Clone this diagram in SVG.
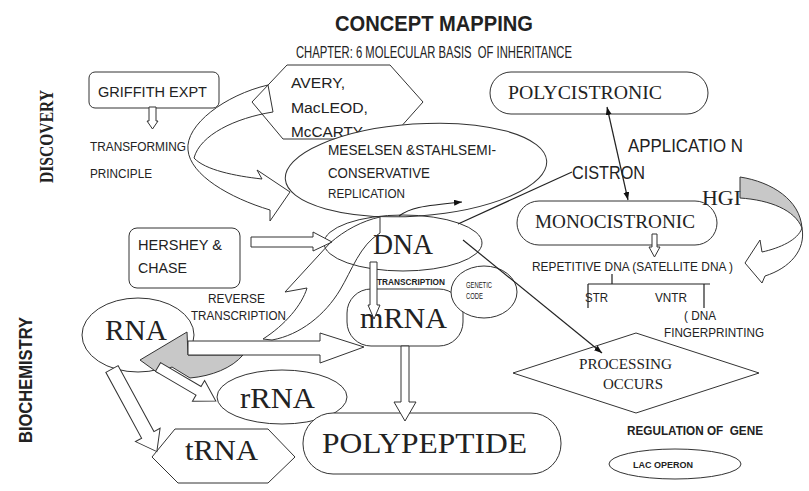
<svg xmlns="http://www.w3.org/2000/svg" width="809" height="491" viewBox="0 0 809 491">
<defs>
<style>
.n{fill:#fff;stroke:#333;stroke-width:1}
.o{fill:none;stroke:#333;stroke-width:1}
.ha{fill:#fff;stroke:#333;stroke-width:1}
.ln{fill:none;stroke:#222;stroke-width:1.2}
.s{font-family:"Liberation Sans",Arial,sans-serif;fill:#222}
.r{font-family:"Liberation Serif","Times New Roman",serif;fill:#222}
.b{font-weight:bold}
.pre{white-space:pre}
</style>
<marker id="ah" viewBox="0 0 8 6" refX="8" refY="3" markerWidth="8" markerHeight="6" markerUnits="userSpaceOnUse" orient="auto-start-reverse">
<path d="M0,0 L8,3 L0,6 z" fill="#111"/>
</marker>
</defs>
<rect width="809" height="491" fill="#fff"/>

<g id="title">
<text class="s b" x="335" y="31" font-size="22" textLength="198" lengthAdjust="spacingAndGlyphs">CONCEPT MAPPING</text>
<text class="s pre" x="296" y="58" font-size="16" textLength="276" lengthAdjust="spacingAndGlyphs">CHAPTER: 6 MOLECULAR BASIS  OF INHERITANCE</text>
</g>
<g id="side-labels">
<text class="r b" transform="translate(53,136.5) rotate(-90)" text-anchor="middle" font-size="18" textLength="93" lengthAdjust="spacingAndGlyphs">DISCOVERY</text>
<text class="s b" transform="translate(32,380) rotate(-90)" text-anchor="middle" font-size="18" textLength="126" lengthAdjust="spacingAndGlyphs">BIOCHEMISTRY</text>
</g>

<g id="griffith">
<rect class="n" x="89" y="72" width="130" height="36" rx="6"/>
<text class="s" x="98" y="97" font-size="15" textLength="109" lengthAdjust="spacingAndGlyphs">GRIFFITH EXPT</text>
</g>
<g id="transforming-principle">
<text class="s" x="90" y="151" font-size="12" textLength="96" lengthAdjust="spacingAndGlyphs">TRANSFORMING</text>
<text class="s" x="90" y="178" font-size="12" textLength="62" lengthAdjust="spacingAndGlyphs">PRINCIPLE</text>
</g>
<g id="avery">
<polygon class="n" points="252,102 287,65 390,65 423,102 390,139 283,139"/>
<text class="s" x="291" y="88" font-size="15.5" textLength="54" lengthAdjust="spacingAndGlyphs">AVERY,</text>
<text class="s" x="291" y="113" font-size="15.5" textLength="77" lengthAdjust="spacingAndGlyphs">MacLEOD,</text>
<text class="s" x="291" y="137" font-size="15.5" textLength="72" lengthAdjust="spacingAndGlyphs">McCARTY</text>
</g>
<g id="meselsen">
<ellipse class="n" cx="416" cy="170" rx="131" ry="46" transform="rotate(-4 416 170)"/>
<text class="s" x="328" y="155" font-size="14.5" textLength="168" lengthAdjust="spacingAndGlyphs">MESELSEN &amp;STAHLSEMI-</text>
<text class="s" x="328" y="178" font-size="14.5" textLength="102" lengthAdjust="spacingAndGlyphs">CONSERVATIVE</text>
<text class="s" x="328" y="198" font-size="12.5" textLength="77" lengthAdjust="spacingAndGlyphs">REPLICATION</text>
</g>
<g id="polycistronic">
<rect class="n" x="490" y="72" width="218" height="42" rx="21"/>
<text class="r" x="508" y="99" font-size="19.5" textLength="154" lengthAdjust="spacingAndGlyphs" fill="#333">POLYCISTRONIC</text>
</g>
<g id="monocistronic">
<rect class="n" x="517" y="201" width="200" height="44" rx="22"/>
<text class="r" x="535" y="228" font-size="19" textLength="160" lengthAdjust="spacingAndGlyphs" fill="#444">MONOCISTRONIC</text>
</g>
<g id="hershey">
<rect class="n" x="129" y="228" width="111" height="60" rx="8"/>
<text class="s" x="138" y="250" font-size="15" textLength="84" lengthAdjust="spacingAndGlyphs">HERSHEY &amp;</text>
<text class="s" x="138" y="273" font-size="15" textLength="49" lengthAdjust="spacingAndGlyphs">CHASE</text>
</g>
<g id="dna">
<ellipse class="o" cx="403" cy="243" rx="79" ry="28"/>
<text class="r" x="373" y="254" font-size="29" textLength="60" lengthAdjust="spacingAndGlyphs">DNA</text>
</g>
<g id="mrna">
<rect class="n" x="347" y="289" width="116" height="57" rx="24"/>
<text class="r" x="360" y="328" font-size="30" textLength="87" lengthAdjust="spacingAndGlyphs">mRNA</text>
</g>
<g id="genetic-code">
<ellipse class="n" cx="484" cy="292" rx="33" ry="26"/>
<text class="s" x="466" y="288" font-size="9" textLength="26" lengthAdjust="spacingAndGlyphs">GENETIC</text>
<text class="s" x="466" y="299" font-size="9" textLength="17" lengthAdjust="spacingAndGlyphs">CODE</text>
</g>
<g id="rna">
<ellipse class="n" cx="138" cy="335" rx="56" ry="37"/>
<text class="r" x="105" y="340" font-size="29" textLength="62" lengthAdjust="spacingAndGlyphs">RNA</text>
</g>
<g id="rrna">
<ellipse class="n" cx="282" cy="397" rx="65" ry="27"/>
<text class="r" x="240" y="408" font-size="29" textLength="75" lengthAdjust="spacingAndGlyphs">rRNA</text>
</g>
<g id="trna">
<polygon class="n" points="152,457 175,429 268,429 295,457 268,483 178,483"/>
<text class="r" x="185" y="460" font-size="29" textLength="73" lengthAdjust="spacingAndGlyphs">tRNA</text>
</g>
<g id="polypeptide">
<rect class="n" x="303" y="413" width="258" height="61" rx="30"/>
<text class="r" x="322" y="453" font-size="30" textLength="205" lengthAdjust="spacingAndGlyphs">POLYPEPTIDE</text>
</g>
<g id="repetitive-dna">
<text class="s" x="532" y="271" font-size="13" textLength="201" lengthAdjust="spacingAndGlyphs">REPETITIVE DNA (SATELLITE DNA )</text>
</g>
<g id="str">
<text class="s" x="585" y="302" font-size="13" textLength="23" lengthAdjust="spacingAndGlyphs">STR</text>
</g>
<g id="vntr">
<text class="s" x="655" y="302" font-size="13" textLength="32" lengthAdjust="spacingAndGlyphs">VNTR</text>
<text class="s" x="684" y="320" font-size="13" textLength="32" lengthAdjust="spacingAndGlyphs">( DNA</text>
<text class="s" x="664" y="337" font-size="13" textLength="100" lengthAdjust="spacingAndGlyphs">FINGERPRINTING</text>
</g>
<g id="processing">
<polygon class="n" points="513,373 636,333 759,373 636,413"/>
<text class="r" x="579" y="369" font-size="15" textLength="93" lengthAdjust="spacingAndGlyphs" fill="#555">PROCESSING</text>
<text class="r" x="603" y="389" font-size="15" textLength="60" lengthAdjust="spacingAndGlyphs" fill="#555">OCCURS</text>
</g>
<g id="regulation">
<text class="s b pre" x="627" y="435" font-size="13" textLength="136" lengthAdjust="spacingAndGlyphs">REGULATION OF  GENE</text>
</g>
<g id="lac-operon">
<ellipse class="n" cx="675" cy="464" rx="66" ry="15"/>
<text class="s b" x="633" y="468" font-size="9" textLength="60" lengthAdjust="spacingAndGlyphs">LAC OPERON</text>
</g>

<g id="connectors">
<polygon class="ha" points="149,107 156,107 156,121 158,121 152.5,129 147,121 149,121"/>
<path class="o" d="M268,85 C225,95 185,125 188,150 C190,175 230,198 270,210 L270,221 L290,192 L257,170 L262,179 C235,176 205,170 194,158 C200,135 235,118 273,112 Z"/>
<path class="ln" d="M399,216 C410,208 420,206 462,202" marker-end="url(#ah)"/>
<polygon class="ha" points="251,237 313,237 313,232 332,242 313,251 313,247 251,247"/>
<path class="o" d="M263,339 C285,325 302,305 307,288 L285,292 L330,243 C345,230 362,221 380,217 L380,233 C360,245 352,270 340,290 C325,315 300,335 272,340 Z"/>
<polygon class="ha" points="370,262 377,262 377,305 380,305 374,319 368,305 370,305"/>
<polygon class="ha" points="401,346 409,346 409,402 416,402 405,421 394,402 401,402"/>
<line class="ln" x1="458" y1="224" x2="572" y2="172"/>
<line class="ln" x1="463" y1="240" x2="602" y2="353" marker-end="url(#ah)"/>
<line class="ln" x1="607" y1="107" x2="628" y2="200" marker-start="url(#ah)" marker-end="url(#ah)"/>
<polygon class="ha" points="652,234 657,234 657,247 660,247 654.5,257 649,247 652,247"/>
<path class="ln" d="M612,274 V284 M588,284 H710 M588,284 V308 M704,284 V308"/>
<path d="M740,177 C772,182 800,200 802,228 C795,210 770,200 740,198 Z" fill="#c8c8c8" stroke="#333" stroke-width="1"/>
<path class="ha" d="M802,228 C806,250 790,268 765,276 L762,283 L745,263 L760,240 L762,252 C780,248 798,240 802,228 Z"/>
<path d="M140,360 L187,332 L188,355 L243,355 C232,368 212,376 190,378 L172,367 L158,373 Z" fill="#c8c8c8" stroke="#333" stroke-width="1"/>
<polygon class="ha" points="188,341 320,341 320,333 364,347 320,363 320,355 188,355"/>
<polygon class="ha" transform="translate(158,367) rotate(30.4)" points="0,-5 47,-5 47,-12 67,0 47,12 47,5 0,5"/>
<polygon class="ha" transform="translate(112,369) rotate(61.5)" points="0,-7 75,-7 75,-14 94,0 75,14 75,7 0,7"/>
</g>

<g id="labels">
<text class="s" x="208" y="303" font-size="12.5" textLength="57" lengthAdjust="spacingAndGlyphs">REVERSE</text>
<text class="s" x="191" y="320" font-size="12.5" textLength="95" lengthAdjust="spacingAndGlyphs">TRANSCRIPTION</text>
<text class="s b" x="377" y="285" font-size="9" textLength="68" lengthAdjust="spacingAndGlyphs">TRANSCRIPTION</text>
<text class="s" x="628" y="152" font-size="19" textLength="115" lengthAdjust="spacingAndGlyphs">APPLICATIO N</text>
<text class="s" x="572" y="179" font-size="18" textLength="73" lengthAdjust="spacingAndGlyphs">CISTRON</text>
<text class="r" x="702" y="205" font-size="20" textLength="39" lengthAdjust="spacingAndGlyphs" fill="#333">HGI</text>
</g>
</svg>
